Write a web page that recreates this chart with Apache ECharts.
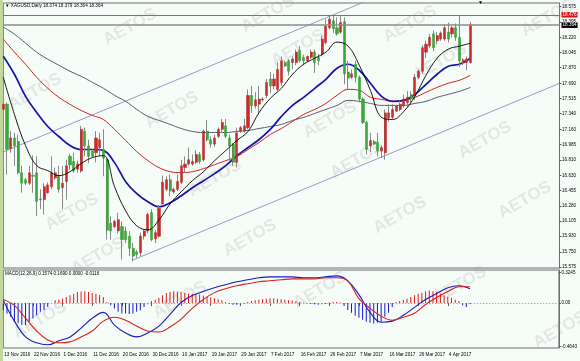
<!DOCTYPE html>
<html><head><meta charset="utf-8">
<script src="https://cdn.jsdelivr.net/npm/echarts@6/dist/echarts.min.js"></script>
<style>html,body{margin:0;padding:0;background:#f6fcf8;}#c{width:580px;height:361px;}</style>
</head><body><div id="c"></div>
<script>
const categories = [
'13 Nov 2016','14 Nov 2016','15 Nov 2016','16 Nov 2016','17 Nov 2016','18 Nov 2016',
'20 Nov 2016','21 Nov 2016','22 Nov 2016','23 Nov 2016','24 Nov 2016','25 Nov 2016',
'27 Nov 2016','28 Nov 2016','29 Nov 2016','30 Nov 2016','1 Dec 2016','2 Dec 2016',
'4 Dec 2016','5 Dec 2016','6 Dec 2016','7 Dec 2016','8 Dec 2016','9 Dec 2016',
'11 Dec 2016','12 Dec 2016','13 Dec 2016','14 Dec 2016','15 Dec 2016','16 Dec 2016',
'18 Dec 2016','19 Dec 2016','20 Dec 2016','21 Dec 2016','22 Dec 2016','23 Dec 2016',
'26 Dec 2016','27 Dec 2016','28 Dec 2016','29 Dec 2016','30 Dec 2016',
'2 Jan 2017','3 Jan 2017','4 Jan 2017','5 Jan 2017','6 Jan 2017',
'8 Jan 2017','9 Jan 2017','10 Jan 2017','11 Jan 2017','12 Jan 2017','13 Jan 2017',
'15 Jan 2017','16 Jan 2017','17 Jan 2017','18 Jan 2017','19 Jan 2017','20 Jan 2017',
'22 Jan 2017','23 Jan 2017','24 Jan 2017','25 Jan 2017','26 Jan 2017','27 Jan 2017',
'29 Jan 2017','30 Jan 2017','31 Jan 2017','1 Feb 2017','2 Feb 2017','3 Feb 2017',
'5 Feb 2017','6 Feb 2017','7 Feb 2017','8 Feb 2017','9 Feb 2017','10 Feb 2017',
'12 Feb 2017','13 Feb 2017','14 Feb 2017','15 Feb 2017','16 Feb 2017','17 Feb 2017',
'19 Feb 2017','20 Feb 2017','21 Feb 2017','22 Feb 2017','23 Feb 2017','24 Feb 2017',
'26 Feb 2017','27 Feb 2017','28 Feb 2017','1 Mar 2017','2 Mar 2017','3 Mar 2017',
'5 Mar 2017','6 Mar 2017','7 Mar 2017','8 Mar 2017','9 Mar 2017','10 Mar 2017',
'12 Mar 2017','13 Mar 2017','14 Mar 2017','15 Mar 2017','16 Mar 2017','17 Mar 2017',
'19 Mar 2017','20 Mar 2017','21 Mar 2017','22 Mar 2017','23 Mar 2017','24 Mar 2017',
'26 Mar 2017','27 Mar 2017','28 Mar 2017','29 Mar 2017','30 Mar 2017','31 Mar 2017',
'2 Apr 2017','3 Apr 2017','4 Apr 2017','5 Apr 2017','6 Apr 2017','7 Apr 2017',
'9 Apr 2017','10 Apr 2017','11 Apr 2017'];

const open = [17.39,17.45,16.94,17.06,17.02,16.66,16.58,16.54,16.63,16.66,16.36,16.35,16.43,16.50,16.60,16.62,16.49,16.56,16.85,16.79,16.70,16.68,17.14,16.97,16.91,16.89,16.95,16.93,16.81,16.08,16.04,15.99,16.04,15.99,15.93,15.79,15.75,15.74,15.93,15.99,16.20,15.90,15.93,16.30,16.47,16.58,16.44,16.47,16.55,16.72,16.76,16.76,16.78,16.87,16.81,17.14,17.04,16.99,17.08,17.16,17.20,17.06,16.99,16.78,17.14,17.14,17.18,17.55,17.43,17.45,17.50,17.55,17.74,17.66,17.62,17.70,17.93,17.95,17.93,17.93,18.07,17.99,17.95,17.99,18.05,17.99,18.03,18.16,18.33,18.41,18.33,18.28,18.40,17.82,17.76,17.91,17.76,17.51,17.24,16.97,17.02,17.01,16.91,16.89,17.29,17.30,17.37,17.39,17.43,17.47,17.56,17.55,17.76,17.83,18.05,18.12,18.26,18.18,18.20,18.20,18.28,18.26,18.33,18.22,17.93,17.93,17.93];
const high = [17.48,17.47,17.14,17.12,17.10,16.74,16.60,16.74,16.86,16.85,16.47,16.54,16.55,16.85,16.72,16.74,16.74,16.81,16.88,16.89,16.80,17.20,17.18,17.04,16.93,17.14,17.12,17.16,16.83,16.16,16.12,16.20,16.10,16.04,15.99,15.85,15.77,15.97,16.00,16.20,16.24,16.00,16.29,16.63,16.62,16.64,16.49,16.64,16.81,16.85,16.95,16.87,16.92,16.90,17.16,17.27,17.08,17.10,17.18,17.28,17.28,17.10,17.00,17.18,17.20,17.28,17.62,17.66,17.59,17.66,17.53,17.74,17.82,17.80,17.93,18.00,17.95,17.97,18.00,18.08,18.12,18.02,18.01,18.08,18.08,18.03,18.24,18.43,18.47,18.47,18.45,18.47,18.45,17.95,17.85,17.95,17.78,17.53,17.26,17.12,17.04,17.12,16.98,17.39,17.45,17.45,17.44,17.49,17.56,17.60,17.60,17.80,17.85,18.13,18.18,18.26,18.30,18.28,18.29,18.37,18.39,18.35,18.38,18.47,17.98,18.00,18.40];
const low = [17.37,16.64,16.89,16.74,16.64,16.43,16.52,16.52,16.43,16.16,16.24,16.18,16.42,16.47,16.58,16.43,16.24,16.35,16.70,16.66,16.66,16.66,16.85,16.77,16.84,16.78,16.85,16.62,15.89,15.89,16.02,15.96,15.66,15.85,15.70,15.64,15.68,15.70,15.89,15.96,15.87,15.85,15.91,16.33,16.45,16.39,16.42,16.45,16.53,16.66,16.74,16.74,16.76,16.76,16.79,17.02,16.95,16.96,17.06,17.12,17.06,16.80,16.74,16.72,17.12,17.12,17.16,17.35,17.40,17.35,17.48,17.52,17.58,17.62,17.60,17.66,17.88,17.78,17.85,17.90,17.93,17.90,17.94,17.97,17.81,17.90,18.00,18.14,18.31,18.27,18.24,18.26,17.68,17.62,17.74,17.70,17.47,17.22,16.87,16.90,16.98,16.85,16.83,16.81,17.25,17.28,17.36,17.37,17.41,17.42,17.47,17.50,17.74,17.80,17.98,18.10,18.06,18.14,18.18,18.18,18.16,18.22,18.18,17.88,17.90,17.84,17.92];
const close = [17.45,16.93,17.06,16.97,16.66,16.54,16.54,16.66,16.62,16.33,16.35,16.50,16.52,16.66,16.66,16.47,16.54,16.74,16.75,16.68,16.76,17.16,16.97,16.85,16.85,17.06,17.04,16.83,16.00,15.99,16.10,16.12,15.89,15.89,15.79,15.70,15.72,15.93,15.99,16.18,15.89,15.97,16.25,16.55,16.58,16.45,16.47,16.56,16.74,16.76,16.81,16.79,16.87,16.79,17.14,17.04,16.99,17.06,17.16,17.24,17.08,16.97,16.78,17.12,17.18,17.20,17.55,17.43,17.50,17.51,17.51,17.70,17.66,17.74,17.85,17.95,17.89,17.83,17.97,18.05,17.95,17.95,18.00,18.05,17.93,17.95,18.20,18.35,18.43,18.32,18.26,18.39,17.80,17.75,17.80,17.76,17.51,17.24,16.93,17.03,16.99,16.91,16.95,17.35,17.35,17.39,17.43,17.45,17.51,17.53,17.51,17.76,17.83,18.10,18.14,18.22,18.10,18.24,18.27,18.33,18.20,18.33,18.22,17.95,17.96,17.97,18.364];

// moving averages read at every third bar
const maIdx = [0,3,6,9,12,15,18,21,24,27,30,33,36,39,42,45,48,51,54,57,60,63,66,69,72,75,78,81,84,87,90,93,96,99,102,105,108,111,114,117,120,123,126];
const maBlack = [17.760,17.332,16.974,16.743,16.685,16.627,16.673,16.766,16.835,16.858,16.500,16.222,16.049,16.003,16.118,16.303,16.442,16.569,16.673,16.800,16.916,17.032,17.136,17.355,17.517,17.633,17.795,17.910,17.980,18.049,18.165,18.118,17.899,17.610,17.298,17.274,17.367,17.540,17.783,17.980,18.084,18.118,18.153];
const maBlue = [18.003,17.795,17.540,17.355,17.193,17.078,16.974,16.928,16.928,16.916,16.777,16.558,16.419,16.326,16.269,16.315,16.396,16.488,16.569,16.650,16.743,16.858,16.951,17.043,17.159,17.309,17.436,17.529,17.633,17.737,17.864,17.910,17.841,17.691,17.540,17.483,17.494,17.563,17.679,17.795,17.887,17.910,17.980];
const maRed = [18.199,18.049,17.910,17.760,17.633,17.529,17.448,17.378,17.321,17.274,17.159,17.032,16.904,16.800,16.719,16.673,16.662,16.673,16.708,16.754,16.800,16.847,16.928,17.009,17.101,17.170,17.251,17.332,17.390,17.459,17.552,17.621,17.610,17.529,17.506,17.483,17.494,17.529,17.587,17.644,17.691,17.725,17.783];
const maGray = [18.338,18.257,18.153,18.049,17.968,17.899,17.829,17.771,17.702,17.633,17.552,17.483,17.390,17.309,17.263,17.217,17.170,17.136,17.124,17.124,17.124,17.136,17.147,17.170,17.193,17.217,17.263,17.298,17.344,17.390,17.436,17.494,17.483,17.459,17.436,17.436,17.436,17.459,17.483,17.529,17.563,17.598,17.644];

const macdMain = [0.026,-0.194,-0.362,-0.425,-0.446,-0.404,-0.362,-0.268,-0.163,-0.100,-0.236,-0.320,-0.362,-0.320,-0.247,-0.121,0.005,0.079,0.121,0.163,0.194,0.226,0.247,0.268,0.278,0.278,0.278,0.268,0.268,0.278,0.289,0.236,0.089,-0.100,-0.205,-0.194,-0.131,-0.047,0.037,0.100,0.163,0.184,0.152];
const macdSignal = [0.037,-0.026,-0.163,-0.299,-0.394,-0.425,-0.415,-0.362,-0.299,-0.194,-0.152,-0.184,-0.247,-0.299,-0.310,-0.257,-0.173,-0.058,0.037,0.110,0.152,0.184,0.205,0.226,0.236,0.247,0.257,0.257,0.257,0.268,0.268,0.236,0.047,-0.058,-0.142,-0.184,-0.152,-0.110,-0.016,0.058,0.121,0.173,0.173];
const macdHist = [-0.077,-0.112,-0.147,-0.2,-0.217,-0.235,-0.235,-0.2,-0.165,-0.13,-0.095,-0.077,-0.042,0,
0.028,0.035,0.046,0.063,0.081,0.098,0.116,0.123,0.126,0.116,0.105,0.098,0.084,0.063,0.01,
-0.025,-0.06,-0.095,-0.112,-0.112,-0.119,-0.112,-0.095,-0.077,-0.042,-0.014,
0.021,0.035,0.056,0.081,0.105,0.116,0.126,0.123,0.116,0.105,0.098,0.098,0.098,
0.09,0.08,0.07,0.06,0.05,0.04,0.03,0.01,-0.01,-0.02,-0.02,-0.015,-0.01,
0.01,0.02,0.03,0.035,0.04,0.045,0.05,0.05,0.045,0.04,0.035,0.03,0.025,0.02,0.01,0.005,
-0.005,-0.01,-0.015,-0.02,-0.015,-0.01,0.005,0.01,0.01,0.005,
-0.032,-0.074,-0.105,-0.137,-0.158,-0.179,-0.2,-0.21,-0.22,-0.21,-0.2,-0.147,-0.105,-0.042,
0.01,0.021,0.035,0.046,0.063,0.081,0.098,0.108,0.123,0.133,0.126,0.116,0.098,0.081,0.07,0.056,0.035,0.021,
-0.024,-0.042,-0.0116];

const priceTicks = [15.575,15.750,15.930,16.105,16.280,16.455,16.630,16.810,16.985,17.160,17.340,17.515,17.690,17.870,18.045,18.220,18.395,18.575];
const macdTicks = [0.3245, 0, -0.4643];
const channelUpper = [[0,16.90],[100,18.675]];
const channelLower = [[35,15.656],[150,17.69]];
const levelRed = 18.476;
const bidPrice = 18.364;
const titleText = '▼ XAGUSD,Daily 18.374 18.379 18.364 18.364';
const macdText = 'MACD(12,26,9) 0.1574 0.1690 0.0000 -0.0116';

const SHIFT = 24;
const xCats = categories.concat(new Array(SHIFT).fill(''));
const FONT = 'Liberation Sans';
const FS = 4.6;

const wicks = open.map((o,i)=>[o, close[i], low[i], high[i]]);
const bodies = open.map((o,i)=>[o, close[i], Math.min(o,close[i]), Math.max(o,close[i])]);
const pairs = (arr)=>maIdx.map((x,k)=>[x, arr[k]]);

const wmPos = [[130,27],[268,14],[410,24],[548,18],[35,92],[172,110],[298,48],[440,62],[215,178],[330,120],[357,160],[485,140],[72,212],[98,256],[250,238],[400,215],[525,200],[180,300],[320,290],[460,285],[40,320],[560,330]];
const graphics = [
  {type:'rect', left:0, top:0, shape:{width:3,height:361}, style:{fill:'#c3d89c'}, z:0},
  {type:'text', left:5, top:3.5, style:{text:titleText, font:FS+'px '+FONT, fill:'#000'}, z:100},
  {type:'text', left:5, top:271, style:{text:macdText, font:FS+'px '+FONT, fill:'#000'}, z:100},
  {type:'text', left:478, top:0.5, style:{text:'▼', font:'5px '+FONT, fill:'#000'}, z:100}
].concat(wmPos.map(p=>({type:'text', x:p[0], y:p[1], rotation:Math.PI/6, style:{text:'AETOS', font:'bold 17px '+FONT, fill:'rgba(150,150,150,0.2)', align:'center', verticalAlign:'middle'}, z:1})));

const chart = echarts.init(document.getElementById('c'), null, {renderer:'canvas'});
chart.setOption({
  animation:false,
  backgroundColor:'#f6fcf8',
  graphic: graphics,
  grid:[
    {left:3.3, right:20.5, top:3, height:265, show:true, borderColor:'#707070', borderWidth:1, backgroundColor:'transparent'},
    {left:3.3, right:20.5, top:270, height:78, show:true, borderColor:'#707070', borderWidth:1, backgroundColor:'transparent'}
  ],
  xAxis:[
    {type:'category', gridIndex:0, data:xCats, boundaryGap:false, axisLine:{show:false}, axisTick:{show:false}, axisLabel:{show:false}, splitLine:{show:false}},
    {type:'category', gridIndex:1, data:xCats, boundaryGap:false, axisLine:{show:false},
     axisTick:{show:true, interval:(i)=> i%8===0 && i<categories.length, length:3, lineStyle:{color:'#555'}},
     axisLabel:{show:true, interval:(i)=> i%8===0 && i<categories.length, align:'left', fontSize:FS, fontFamily:FONT, color:'#000', margin:4, padding:[0,0,0,1]},
     splitLine:{show:false}}
  ],
  yAxis:[
    {type:'value', gridIndex:0, position:'right', min:15.5634, max:18.6155, scale:true,
     axisLine:{show:true, lineStyle:{color:'#707070'}}, axisTick:{show:true, length:2, customValues:priceTicks, lineStyle:{color:'#555'}},
     axisLabel:{customValues:priceTicks, formatter:(v)=>v.toFixed(3), fontSize:FS, fontFamily:FONT, color:'#000', margin:2.5},
     splitLine:{show:false}},
    {type:'value', gridIndex:1, position:'right', min:-0.4803, max:0.3512,
     axisLine:{show:true, lineStyle:{color:'#707070'}}, axisTick:{show:true, length:2, customValues:macdTicks, lineStyle:{color:'#555'}},
     axisLabel:{customValues:macdTicks, formatter:(v)=> v===0 ? '0.00' : v.toFixed(4), fontSize:FS, fontFamily:FONT, color:'#000', margin:2.5},
     splitLine:{show:false}}
  ],
  series:[
    {type:'line', xAxisIndex:0, yAxisIndex:0, data:channelUpper, showSymbol:false, clip:true, lineStyle:{color:'#8080b8', width:0.8}, z:2},
    {type:'line', xAxisIndex:0, yAxisIndex:0, data:channelLower, showSymbol:false, clip:true, lineStyle:{color:'#8080b8', width:0.8}, z:2},
    {type:'line', xAxisIndex:0, yAxisIndex:0, data:pairs(maGray), showSymbol:false, smooth:0.4, lineStyle:{color:'#5a5a70', width:1}, z:3},
    {type:'line', xAxisIndex:0, yAxisIndex:0, data:pairs(maRed), showSymbol:false, smooth:0.4, lineStyle:{color:'#d42020', width:1}, z:3},
    {type:'line', xAxisIndex:0, yAxisIndex:0, data:pairs(maBlue), showSymbol:false, smooth:0.4, lineStyle:{color:'#1414a8', width:1.7}, z:3},
    {type:'candlestick', xAxisIndex:0, yAxisIndex:0, data:wicks, barWidth:1, z:4,
     itemStyle:{color:'#8a8a8a', color0:'#8a8a8a', borderColor:'#8a8a8a', borderColor0:'#8a8a8a', borderWidth:1}},
    {type:'candlestick', xAxisIndex:0, yAxisIndex:0, data:bodies, barWidth:2.6, z:5,
     itemStyle:{color:'#cc2a2a', color0:'#3aa83a', borderColor:'#b82424', borderColor0:'#2f982f', borderWidth:0.5},
     markLine:{silent:true, symbol:'none', z:10,
       label:{position:'end', distance:2, fontSize:FS, fontFamily:FONT, color:'#fff', padding:[0.5,1,0,1]},
       data:[
         {yAxis:levelRed, lineStyle:{color:'#d05050', width:1, type:'solid'}, label:{formatter:levelRed.toFixed(3), backgroundColor:'#e01010'}},
         {yAxis:bidPrice, lineStyle:{color:'#8c8c8c', width:1.5, type:'solid'}, label:{formatter:bidPrice.toFixed(3), backgroundColor:'#000'}}
       ]}},
    {type:'line', xAxisIndex:0, yAxisIndex:0, data:pairs(maBlack), showSymbol:false, smooth:0.4, lineStyle:{color:'#000', width:0.9}, z:6},
    {type:'bar', xAxisIndex:1, yAxisIndex:1, barWidth:1, z:3,
     data:macdHist.map(v=>({value:v, itemStyle:{color: v>=0 ? '#e01818' : '#1818d0'}})),
     markLine:{silent:true, symbol:'none', label:{show:false}, lineStyle:{color:'#909090', type:[1,2], width:1}, data:[{yAxis:0}]}},
    {type:'line', xAxisIndex:1, yAxisIndex:1, data:pairs(macdMain), showSymbol:false, smooth:0.4, lineStyle:{color:'#1a1ac0', width:1.1}, z:4},
    {type:'line', xAxisIndex:1, yAxisIndex:1, data:pairs(macdSignal), showSymbol:false, smooth:0.4, lineStyle:{color:'#d42020', width:1.1}, z:4}
  ]
});
</script></body></html>
